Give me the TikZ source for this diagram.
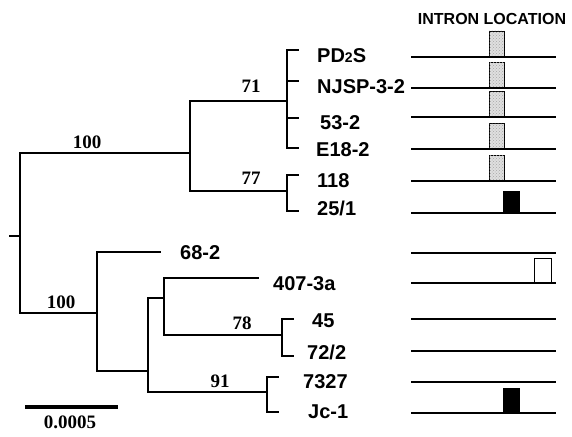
\documentclass[tikz,border=0pt]{standalone}
\usepackage{fontspec}
\setmainfont{Liberation Serif}
\newfontfamily\taxonfont{Liberation Sans}
\usetikzlibrary{positioning,patterns}
\tikzset{
  branch/.style={line width=1.9pt, line cap=rect},
  taxon/.style={anchor=base west, inner sep=0pt, font=\taxonfont\bfseries\fontsize{20}{20}\selectfont},
  bsval/.style={anchor=base, inner sep=0pt, font=\bfseries\fontsize{19}{19}\selectfont},
  seqline/.style={line width=1.9pt},
  grayintron/.style={draw, line width=0.9pt, fill=gray!25, postaction={pattern=crosshatch dots, pattern color=gray!70}},
  blackintron/.style={draw, line width=0.9pt, fill=black},
  openintron/.style={draw, line width=0.9pt, fill=white},
  scalebar/.style={line width=3.8pt}
}

\begin{document}
\begin{tikzpicture}[x=1pt,y=-1pt]
\useasboundingbox (0,0) rectangle (572,436);
% internal nodes of the tree
\coordinate (stub) at (10,236);
\coordinate (root) at (20,236);
\coordinate (nA) at (190,153);
\coordinate (nB) at (97,313);
\coordinate (n71) at (287,101);
\coordinate (n77) at (287,191);
\coordinate (n68) at (160,252);
\coordinate (nC) at (148,371);
\coordinate (nD) at (164,298);
\coordinate (n407) at (258,278);
\coordinate (n78) at (282,335);
\coordinate (n91) at (267,392);
% leaf tips
\coordinate (tPD) at (298,50);
\coordinate (tNJ) at (298,81);
\coordinate (t53) at (298,118);
\coordinate (tE18) at (298,148);
\coordinate (t118) at (298,175);
\coordinate (t25) at (298,211);
\coordinate (t45) at (293,319);
\coordinate (t72) at (293,356);
\coordinate (t7327) at (278,377);
\coordinate (tJc) at (278,412);

% branches
\draw[branch] (stub) -- (root);
\draw[branch] (root) |- (nA);
\draw[branch] (root) |- (nB);
\draw[branch] (nA) |- (n71);
\draw[branch] (nA) |- (n77);
\foreach \t in {tPD,tNJ,t53,tE18} \draw[branch] (n71) |- (\t);
\foreach \t in {t118,t25} \draw[branch] (n77) |- (\t);
\draw[branch] (nB) |- (n68);
\draw[branch] (nB) |- (nC);
\draw[branch] (nC) |- (nD);
\draw[branch] (nC) |- (n91);
\draw[branch] (nD) |- (n407);
\draw[branch] (nD) |- (n78);
\foreach \t in {t45,t72} \draw[branch] (n78) |- (\t);
\foreach \t in {t7327,tJc} \draw[branch] (n91) |- (\t);

% bootstrap values
\node[bsval] (bsTop) at (87,148) {100};
\node[bsval] (bs71) at (251,92) {71};
\node[bsval] (bs77) at (251,184) {77};
\node[bsval] (bsLow) at (61,308) {100};
\node[bsval] (bs78) at (242,329) {78};
\node[bsval] (bs91) at (220,387) {91};

% taxa
\node[taxon] (lPD) at (317,63) {PD{\fontsize{14}{14}\selectfont 2}S};
\node[taxon] (lNJ) at (317,93) {NJSP-3-2};
\node[taxon] (l53) at (320,129) {53-2};
\node[taxon] (lE18) at (316,156) {E18-2};
\node[taxon] (l118) at (317,187) {118};
\node[taxon] (l25) at (317,215) {25/1};
\node[taxon] (l68) at (180,259) {68-2};
\node[taxon] (l407) at (273,290) {407-3a};
\node[taxon] (l45) at (312,327) {45};
\node[taxon] (l72) at (307,359) {72/2};
\node[taxon] (l7327) at (303,388) {7327};
\node[taxon] (lJc) at (308,418) {Jc-1};

% intron location panel
\node[font=\taxonfont\bfseries\fontsize{16}{16}\selectfont, inner sep=0pt] (head) at (492,19) {INTRON LOCATION};
\foreach \y in {57,88,117,149,181} {
  \draw[grayintron] (489,\y) rectangle (504,\y-26);
}
\draw[blackintron] (503,213) rectangle (519,191);
\draw[openintron] (534,283) rectangle (551,258);
\draw[blackintron] (503,413) rectangle (519,388);
\foreach \y in {57,88,117,149,181,213,253,283,319,351,382,413} {
  \draw[seqline] (411,\y) -- (556,\y);
}

% scale bar
\coordinate (sbL) at (25,407);
\coordinate (sbR) at (118,407);
\draw[scalebar] (sbL) -- (sbR);
\node[bsval] (sbText) at (70,428) {0.0005};
\end{tikzpicture}
\end{document}
